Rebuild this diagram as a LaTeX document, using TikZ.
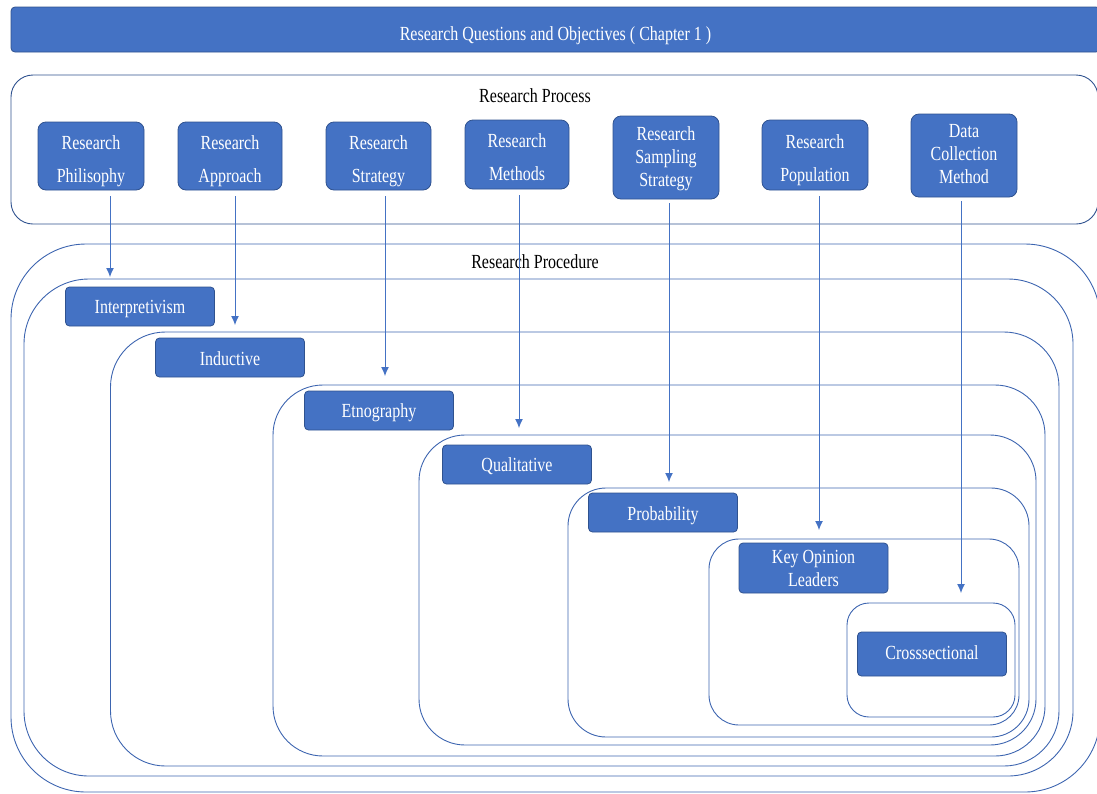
\documentclass[tikz,border=0pt]{standalone}
\usepackage{fontspec}
\setmainfont{Liberation Serif}[FakeStretch=0.8]
\usepackage{tikz}
\usetikzlibrary{arrows.meta,calc}
\definecolor{OfficeBlue}{HTML}{4472C4}
\definecolor{EdgeBlue}{HTML}{2F528F}
\definecolor{FrameBlue}{HTML}{3D65B0}

\begin{document}
\begin{tikzpicture}[x=1pt,y=-1pt,
   drop/.style={text height=#1,text depth=0pt},
   stage/.style={draw=EdgeBlue,line width=0.8pt,fill=OfficeBlue,text=white,
    rounded corners=8pt,align=center,inner sep=0pt,drop=52pt,
    font=\fontsize{20}{23}\selectfont},
   choice/.style={stage,rounded corners=4pt,minimum width=149pt,minimum height=39pt,
    drop=14pt},
   frame/.style={draw=FrameBlue,line width=0.9pt},
   flow/.style={-{Latex[length=9pt,width=8pt]},OfficeBlue,line width=1pt,shorten <=6pt},
   heading/.style={font=\fontsize{20}{23}\selectfont}]
   \useasboundingbox (0,0) rectangle (1097,793);

   \node[stage,rounded corners=4pt,minimum width=1089pt,minimum height=45pt,drop=21pt]
    (goal) at (555.5,29.5) {Research Questions and Objectives ( Chapter 1 )};

   \draw[frame,draw=EdgeBlue,rounded corners=22pt] (11,75) rectangle (1098,224);
   \node[heading] (process) at (535,96) {Research Process};

   \node[stage,minimum width=106pt,minimum height=68pt] (phil) at (91,156)
    {Research\\[10pt]Philisophy};
   \node[stage,minimum width=104pt,minimum height=68pt] (appr) at (230,156)
    {Research\\[10pt]Approach};
   \node[stage,minimum width=105pt,minimum height=68pt] (strat) at (378.5,156)
    {Research\\[10pt]Strategy};
   \node[stage,minimum width=104pt,minimum height=69pt,drop=51pt] (meth) at (517,154.5)
    {Research\\[10pt]Methods};
   \node[stage,minimum width=106pt,minimum height=83pt,drop=58pt] (samp) at (666,157.5)
    {Research\\Sampling\\Strategy};
   \node[stage,minimum width=106pt,minimum height=70pt] (popu) at (815,155)
    {Research\\[10pt]Population};
   \node[stage,minimum width=106pt,minimum height=83pt,drop=56pt] (data) at (964,155.5)
    {Data\\Collection\\Method};

   \draw[frame,rounded corners=75pt] (11,244) rectangle (1100,792);
   \draw[frame,rounded corners=65pt] (24,279) rectangle (1073,776);
   \draw[frame,rounded corners=55pt] (110.5,332) rectangle (1059,766);
   \draw[frame,rounded corners=50pt] (273,385) rectangle (1045,756);
   \draw[frame,rounded corners=46pt] (419,435) rectangle (1036,745);
   \draw[frame,rounded corners=38pt] (568,488) rectangle (1029,737);
   \draw[frame,rounded corners=30pt] (709,539) rectangle (1019,725);
   \draw[frame,rounded corners=22pt] (847,603) rectangle (1015,717);
   \node[heading] (procedure) at (535,262) {Research Procedure};

   \node[choice] (interp) at (140,306.5) {Interpretivism};
   \node[choice,drop=15pt] (induct) at (230,357.5) {Inductive};
   \node[choice] (etno) at (379,410.5) {Etnography};
   \node[choice] (quali) at (517,464.5) {Qualitative};
   \node[choice,drop=15pt] (proba) at (663,512.5) {Probability};
   \node[choice,minimum height=50pt,drop=36pt] (leaders) at (813.5,568)
    {Key Opinion\\Leaders};
   \node[choice,minimum height=44pt,drop=11pt] (cross) at (932,654) {Crosssectional};

   \coordinate (e1) at (110,277);
   \coordinate (e2) at (235,325);
   \coordinate (e3) at (385,376);
   \coordinate (e4) at (519,428);
   \coordinate (e5) at (669,482);
   \coordinate (e6) at (819,530);
   \coordinate (e7) at (961,593);

   \draw[flow] (phil.south -| e1) -- (e1);
   \draw[flow] (appr.south -| e2) -- (e2);
   \draw[flow] (strat.south -| e3) -- (e3);
   \draw[flow] (meth.south -| e4) -- (e4);
   \draw[flow,shorten <=4pt] (samp.south -| e5) -- (e5);
   \draw[flow] (popu.south -| e6) -- (e6);
   \draw[flow,shorten <=4pt] (data.south -| e7) -- (e7);
  \end{tikzpicture}
\end{document}
